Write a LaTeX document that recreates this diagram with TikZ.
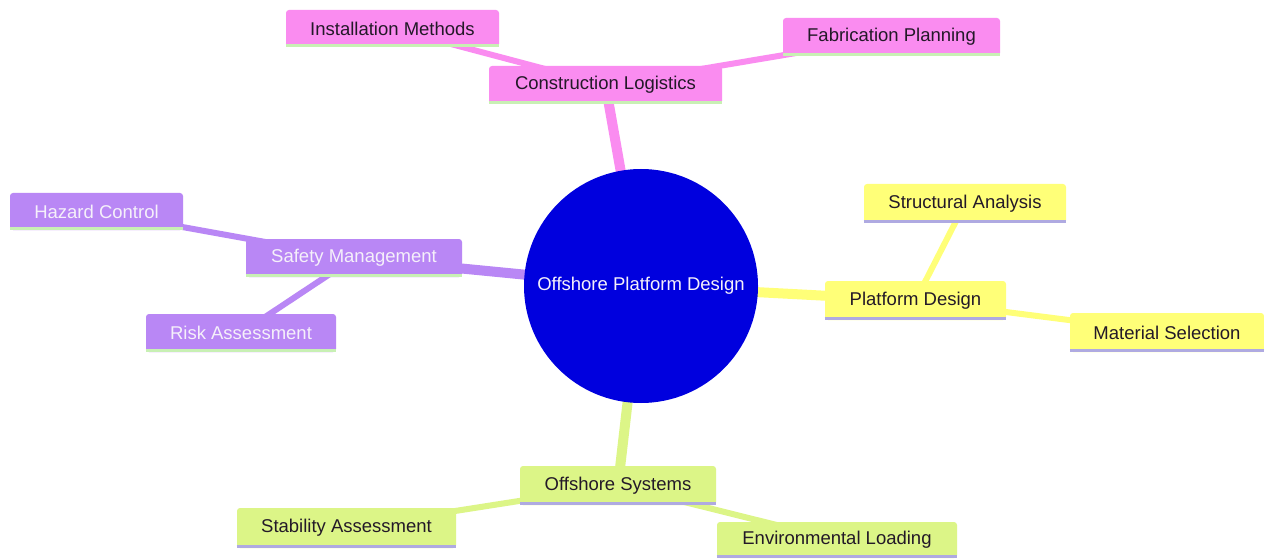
\documentclass[tikz,border=0pt]{standalone}
\usepackage{fontspec}
\setmainfont{Liberation Sans}
\usetikzlibrary{backgrounds}
\pgfdeclarelayer{paper}
\pgfsetlayers{paper,background,main}
\definecolor{cpink}{RGB}{250,140,240}
\definecolor{cpurple}{RGB}{185,135,245}
\definecolor{cyellow}{RGB}{255,255,120}
\definecolor{cgreen}{RGB}{220,245,135}
\definecolor{cblue}{RGB}{0,0,222}
\definecolor{lgreen}{RGB}{200,240,180}
\definecolor{lav}{RGB}{175,170,225}
\definecolor{darktxt}{RGB}{35,25,40}
\definecolor{lighttxt}{RGB}{245,240,250}
\tikzset{
  box/.style={rectangle, rounded corners=3pt, inner sep=0pt, font=\fontsize{18.5}{20}\selectfont},
  pinkbox/.style={box, fill=cpink, text=darktxt},
  purplebox/.style={box, fill=cpurple, text=lighttxt},
  yellowbox/.style={box, fill=cyellow, text=darktxt},
  greenbox/.style={box, fill=cgreen, text=darktxt},
  rootnode/.style={circle, fill=cblue, text=lighttxt, minimum size=234pt, inner sep=0pt, font=\fontsize{18.5}{20}\selectfont},
  edgeone/.style={line width=10pt},
  edgetwo/.style={line width=6pt},
  stripe/.style={line width=3pt}
}
\begin{document}
\begin{tikzpicture}[x=1pt,y=1pt]
\begin{pgfonlayer}{paper}
\fill[white] (0,0) rectangle (1264,558);
\end{pgfonlayer}
\useasboundingbox (0,0) rectangle (1264,558);
% root
\node[rootnode] (root) at (641,272) {Offshore Platform Design};
% pink branch
\node[pinkbox, minimum width=233pt, minimum height=38pt] (cl) at (605.5,473) {Construction Logistics};
\node[pinkbox, minimum width=213pt, minimum height=37pt] (im) at (392.5,529.5) {Installation Methods};
\node[pinkbox, minimum width=217pt, minimum height=38pt] (fp) at (891.5,521) {Fabrication Planning};
% purple branch
\node[purplebox, minimum width=216pt, minimum height=38pt] (sm) at (354,300) {Safety Management};
\node[purplebox, minimum width=173pt, minimum height=37pt] (hc) at (96.5,346.5) {Hazard Control};
\node[purplebox, minimum width=190pt, minimum height=38pt] (ra) at (241,225) {Risk Assessment};
% yellow branch
\node[yellowbox, minimum width=181pt, minimum height=39pt] (pd) at (915.5,257.5) {Platform Design};
\node[yellowbox, minimum width=202pt, minimum height=39pt] (sa) at (965,354.5) {Structural Analysis};
\node[yellowbox, minimum width=194pt, minimum height=39pt] (ms) at (1167,225.5) {Material Selection};
% green branch
\node[greenbox, minimum width=196pt, minimum height=39pt] (os) at (618,72.5) {Offshore Systems};
\node[greenbox, minimum width=219pt, minimum height=40pt] (st) at (346.5,30) {Stability Assessment};
\node[greenbox, minimum width=240pt, minimum height=36pt] (el) at (837,18) {Environmental Loading};
% stripes
\foreach \n in {cl,im,fp,sm,hc,ra}
  \draw[stripe, lgreen] ([yshift=1.5pt]\n.south west) -- ([yshift=1.5pt]\n.south east);
\foreach \n in {pd,sa,ms,os,st,el}
  \draw[stripe, lav] ([yshift=1.5pt]\n.south west) -- ([yshift=1.5pt]\n.south east);
% edges
\begin{scope}[on background layer]
\draw[edgeone, cpink] (root.center) -- (cl.center);
\draw[edgetwo, cpink] (cl.center) -- (im.center);
\draw[edgetwo, cpink] (cl.center) -- (fp.center);
\draw[edgeone, cpurple] (root.center) -- (sm.center);
\draw[edgetwo, cpurple] (sm.center) -- (hc.center);
\draw[edgetwo, cpurple] (sm.center) -- (ra.center);
\draw[edgeone, cyellow] (root.center) -- (pd.center);
\draw[edgetwo, cyellow] (pd.center) -- (sa.center);
\draw[edgetwo, cyellow] (pd.center) -- (ms.center);
\draw[edgeone, cgreen] (root.center) -- (os.center);
\draw[edgetwo, cgreen] (os.center) -- (st.center);
\draw[edgetwo, cgreen] (os.center) -- (el.center);
\end{scope}
\end{tikzpicture}
\end{document}
